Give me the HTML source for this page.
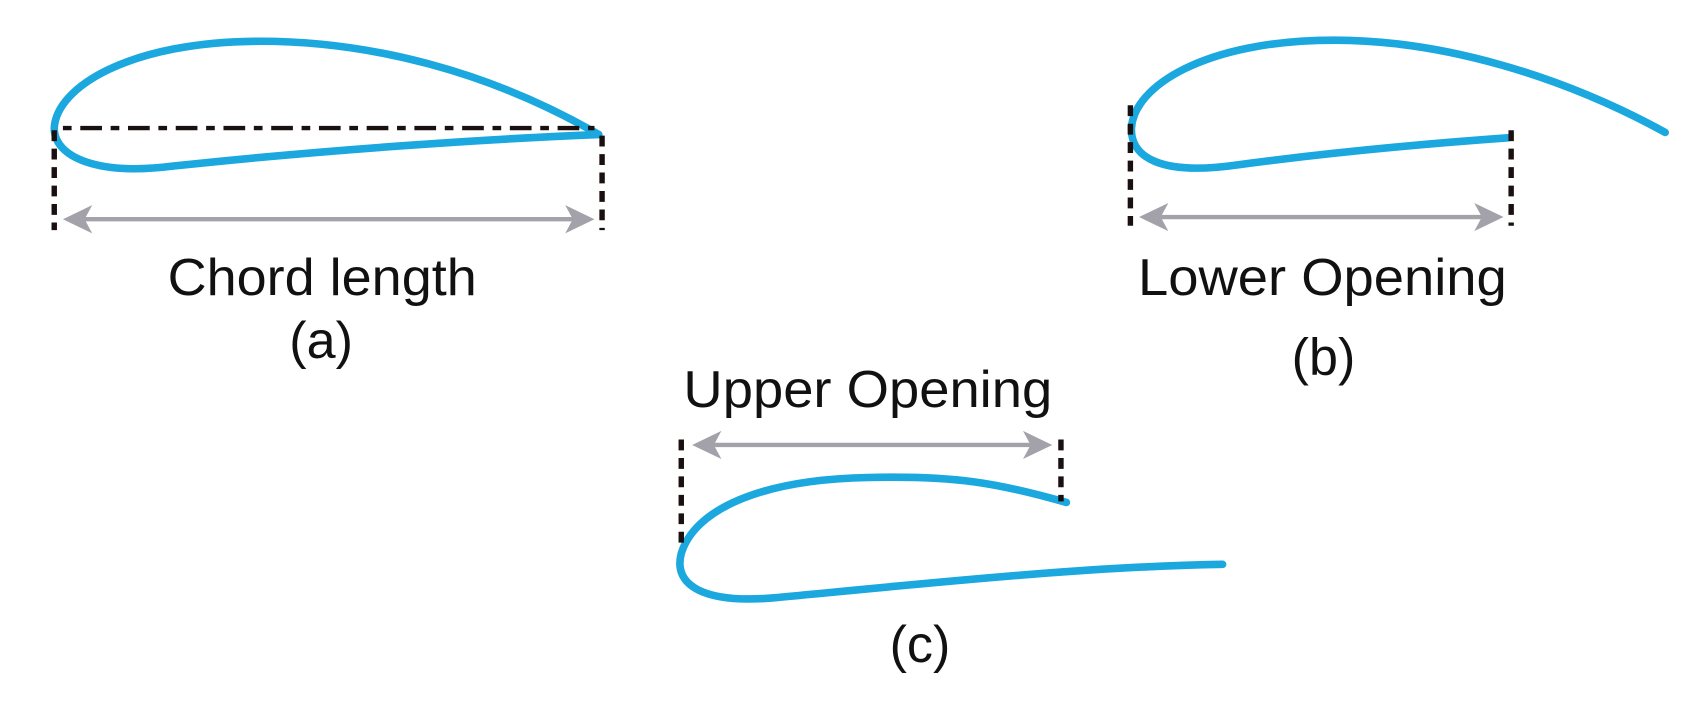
<!DOCTYPE html>
<html><head><meta charset="utf-8"><style>
html,body{margin:0;padding:0;background:#fff;}
svg{display:block;}
text{font-family:"Liberation Sans",Arial,sans-serif;fill:#111;}
</style></head><body>
<svg width="1701" height="713" viewBox="0 0 1568 657" preserveAspectRatio="none" xmlns="http://www.w3.org/2000/svg">
<g fill="none" stroke="#1aa8de" stroke-width="7" stroke-linecap="round" stroke-linejoin="round">
<path d="M552,124 C450,65 340,38 240,38 C120,38 52,80 50,118 C50,145 90,162 160,153 C300,138 450,128 552,124"/>
<path d="M1535,122 C1440,70 1330,37 1230,37 C1110,37 1045,80 1043,118 C1042,145 1070,162 1140,152 C1230,140 1320,132 1390,127"/>
<path d="M983,463 C920,445 880,438 800,440 C700,442 640,470 628,510 C620,540 650,556 712,551 C850,538 1000,522 1127,520"/>
</g>
<g stroke="#1a1010" stroke-width="5" fill="none">
<path d="M50,120 V212 M555,125 V212" stroke-dasharray="10,7"/>
<path d="M58,118 H548" stroke-width="4" stroke-dasharray="8,8,20,8"/>
<path d="M1042,97 V208 M1393,120 V208" stroke-dasharray="10,7"/>
<path d="M628,405 V500 M978,405 V462" stroke-dasharray="10,7"/>
</g>
<g stroke="#a3a2aa" stroke-width="4" fill="none">
<path d="M66,202 H540"/>
<path d="M1058,200 H1378"/>
<path d="M646,410 H962"/>
</g>
<g fill="#a3a2aa">
<path d="M58,202 L85,189 L78,202 L85,215 Z"/><path d="M548,202 L521,189 L528,202 L521,215 Z"/>
<path d="M1050,200 L1077,187 L1070,200 L1077,213 Z"/><path d="M1386,200 L1359,187 L1366,200 L1359,213 Z"/>
<path d="M638,410 L665,397 L658,410 L665,423 Z"/><path d="M970,410 L943,397 L950,410 L943,423 Z"/>
</g>
<g font-size="48" text-anchor="middle">
<text x="297" y="272" textLength="285" lengthAdjust="spacingAndGlyphs">Chord length</text>
<text x="296" y="330">(a)</text>
<text x="1219" y="272" textLength="340" lengthAdjust="spacingAndGlyphs">Lower Opening</text>
<text x="1220" y="345">(b)</text>
<text x="800" y="375" textLength="340" lengthAdjust="spacingAndGlyphs">Upper Opening</text>
<text x="848" y="610">(c)</text>
</g>
</svg>
</body></html>
